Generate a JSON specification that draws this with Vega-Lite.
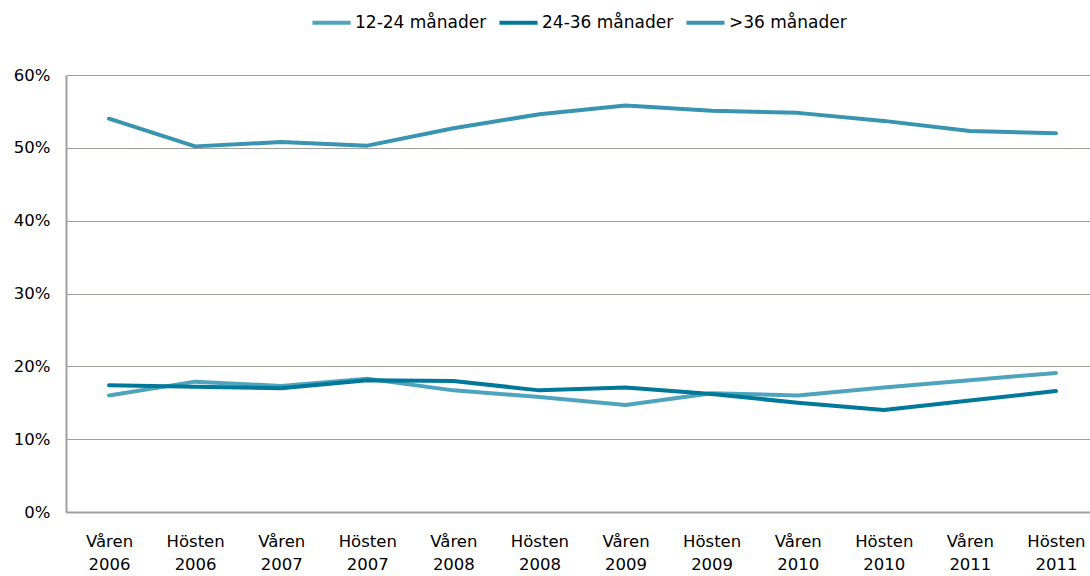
{
  "$schema": "https://vega.github.io/schema/vega-lite/v6.json",
  "width": 1033,
  "height": 437,
  "autosize": {"type": "none"},
  "padding": {"left": 66, "top": 75, "right": 0, "bottom": 64},
  "background": "white",
  "config": {
    "font": "DejaVu Sans",
    "view": {"stroke": null}
  },
  "data": {
    "values": [
      {"period": "Våren 2006", "group": "12-24 månader", "value": 0.160},
      {"period": "Hösten 2006", "group": "12-24 månader", "value": 0.179},
      {"period": "Våren 2007", "group": "12-24 månader", "value": 0.173},
      {"period": "Hösten 2007", "group": "12-24 månader", "value": 0.183},
      {"period": "Våren 2008", "group": "12-24 månader", "value": 0.167},
      {"period": "Hösten 2008", "group": "12-24 månader", "value": 0.158},
      {"period": "Våren 2009", "group": "12-24 månader", "value": 0.147},
      {"period": "Hösten 2009", "group": "12-24 månader", "value": 0.163},
      {"period": "Våren 2010", "group": "12-24 månader", "value": 0.160},
      {"period": "Hösten 2010", "group": "12-24 månader", "value": 0.171},
      {"period": "Våren 2011", "group": "12-24 månader", "value": 0.181},
      {"period": "Hösten 2011", "group": "12-24 månader", "value": 0.191},
      {"period": "Våren 2006", "group": "24-36 månader", "value": 0.174},
      {"period": "Hösten 2006", "group": "24-36 månader", "value": 0.172},
      {"period": "Våren 2007", "group": "24-36 månader", "value": 0.170},
      {"period": "Hösten 2007", "group": "24-36 månader", "value": 0.181},
      {"period": "Våren 2008", "group": "24-36 månader", "value": 0.180},
      {"period": "Hösten 2008", "group": "24-36 månader", "value": 0.167},
      {"period": "Våren 2009", "group": "24-36 månader", "value": 0.171},
      {"period": "Hösten 2009", "group": "24-36 månader", "value": 0.162},
      {"period": "Våren 2010", "group": "24-36 månader", "value": 0.150},
      {"period": "Hösten 2010", "group": "24-36 månader", "value": 0.140},
      {"period": "Våren 2011", "group": "24-36 månader", "value": 0.153},
      {"period": "Hösten 2011", "group": "24-36 månader", "value": 0.166},
      {"period": "Våren 2006", "group": ">36 månader", "value": 0.540},
      {"period": "Hösten 2006", "group": ">36 månader", "value": 0.502},
      {"period": "Våren 2007", "group": ">36 månader", "value": 0.508},
      {"period": "Hösten 2007", "group": ">36 månader", "value": 0.503},
      {"period": "Våren 2008", "group": ">36 månader", "value": 0.527},
      {"period": "Hösten 2008", "group": ">36 månader", "value": 0.546},
      {"period": "Våren 2009", "group": ">36 månader", "value": 0.558},
      {"period": "Hösten 2009", "group": ">36 månader", "value": 0.551},
      {"period": "Våren 2010", "group": ">36 månader", "value": 0.548},
      {"period": "Hösten 2010", "group": ">36 månader", "value": 0.537},
      {"period": "Våren 2011", "group": ">36 månader", "value": 0.523},
      {"period": "Hösten 2011", "group": ">36 månader", "value": 0.520}
    ]
  },
  "mark": {"type": "line", "strokeWidth": 4, "strokeCap": "round", "strokeJoin": "round"},
  "encoding": {
    "x": {
      "field": "period",
      "type": "ordinal",
      "sort": null,
      "scale": {"type": "point", "padding": 0.5},
      "axis": {
        "title": null,
        "labelAngle": 0,
        "labelExpr": "split(datum.label, ' ')",
        "labelFontSize": 16.5,
        "labelColor": "#000000",
        "labelLineHeight": 23,
        "labelPadding": 21,
        "ticks": false,
        "grid": false,
        "domainColor": "#a0a0a0",
        "domainWidth": 2
      }
    },
    "y": {
      "field": "value",
      "type": "quantitative",
      "scale": {"domain": [0, 0.6], "nice": false},
      "axis": {
        "title": null,
        "values": [0, 0.1, 0.2, 0.3, 0.4, 0.5, 0.6],
        "format": ".0%",
        "labelFontSize": 16.5,
        "labelColor": "#000000",
        "labelPadding": 16,
        "ticks": false,
        "grid": true,
        "gridColor": "#a09e98",
        "gridWidth": 1,
        "domainColor": "#a0a0a0",
        "domainWidth": 2
      }
    },
    "color": {
      "field": "group",
      "type": "nominal",
      "sort": ["12-24 månader", "24-36 månader", ">36 månader"],
      "scale": {
        "domain": ["12-24 månader", "24-36 månader", ">36 månader"],
        "range": ["#4ea4bd", "#00789a", "#3894b0"]
      },
      "legend": {
        "title": null,
        "orient": "none",
        "direction": "horizontal",
        "legendX": 244,
        "legendY": -74,
        "symbolType": "stroke",
        "symbolStrokeWidth": 4,
        "symbolSize": 1450,
        "labelFontSize": 17,
        "labelColor": "#000000",
        "labelOffset": 2,
        "columnPadding": 4
      }
    }
  }
}
